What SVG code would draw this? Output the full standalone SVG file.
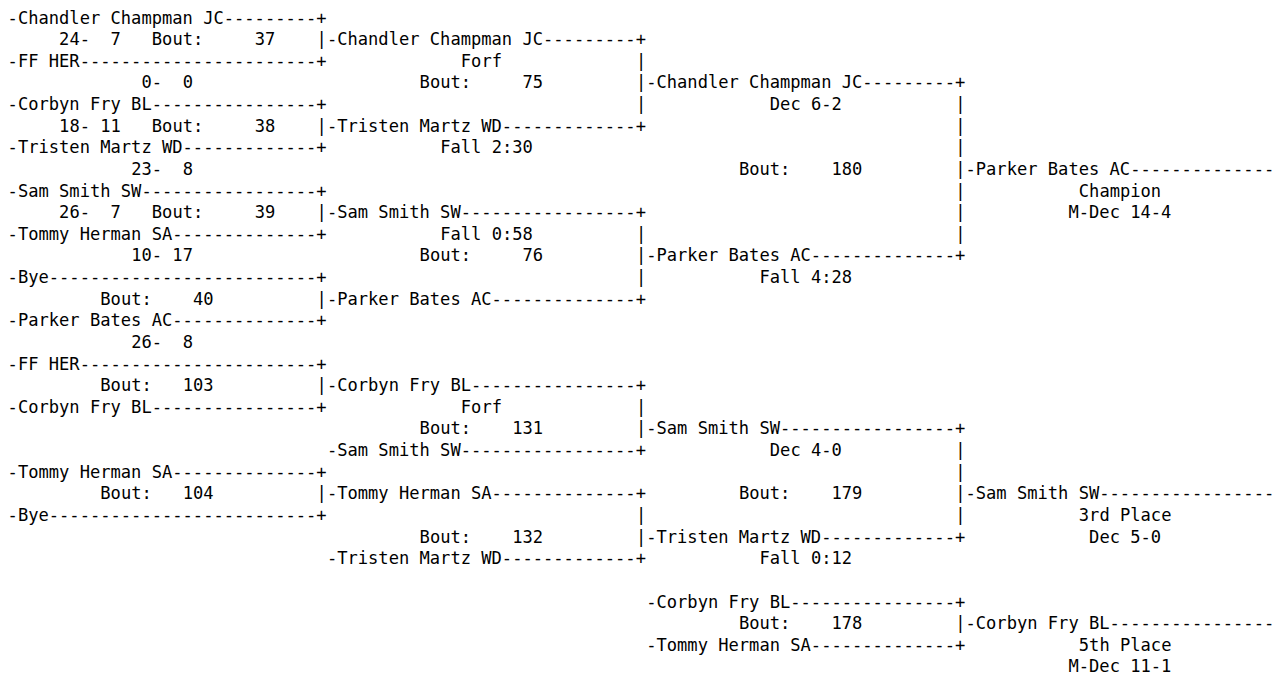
<svg xmlns="http://www.w3.org/2000/svg" width="1273" height="676" viewBox="0 0 1273 676" xml:space="preserve">
<style>
text{font-family:"DejaVu Sans Mono","Liberation Mono",monospace;font-size:17.1px;fill:#000;white-space:pre}
</style>
<rect width="1273" height="676" fill="#fff"/>
<g id="bout37">
<text x="7.6" y="23.5">-Chandler Champman JC---------+</text>
<text x="59.1" y="45.13">24-  7</text>
<text x="151.8" y="45.13">Bout:     37</text>
<text x="7.6" y="66.76">-FF HER-----------------------+</text>
<text x="141.5" y="88.39">0-  0</text>
</g>
<g id="bout38">
<text x="7.6" y="110.02">-Corbyn Fry BL----------------+</text>
<text x="59.1" y="131.65">18- 11</text>
<text x="151.8" y="131.65">Bout:     38</text>
<text x="7.6" y="153.28">-Tristen Martz WD-------------+</text>
<text x="131.2" y="174.91">23-  8</text>
</g>
<g id="bout39">
<text x="7.6" y="196.54">-Sam Smith SW-----------------+</text>
<text x="59.1" y="218.17">26-  7</text>
<text x="151.8" y="218.17">Bout:     39</text>
<text x="7.6" y="239.8">-Tommy Herman SA--------------+</text>
<text x="131.2" y="261.43">10- 17</text>
</g>
<g id="bout40">
<text x="7.6" y="283.06">-Bye--------------------------+</text>
<text x="100.3" y="304.69">Bout:    40</text>
<text x="7.6" y="326.32">-Parker Bates AC--------------+</text>
<text x="131.2" y="347.95">26-  8</text>
</g>
<g id="bout75">
<text x="326.9" y="45.13">-Chandler Champman JC---------+</text>
<text x="460.8" y="66.76">Forf</text>
<text x="419.6" y="88.39">Bout:     75</text>
<text x="326.9" y="131.65">-Tristen Martz WD-------------+</text>
<text x="440.2" y="153.28">Fall 2:30</text>
</g>
<g id="bout76">
<text x="326.9" y="218.17">-Sam Smith SW-----------------+</text>
<text x="440.2" y="239.8">Fall 0:58</text>
<text x="419.6" y="261.43">Bout:     76</text>
<text x="326.9" y="304.69">-Parker Bates AC--------------+</text>
</g>
<g id="bout180">
<text x="646.2" y="88.39">-Chandler Champman JC---------+</text>
<text x="769.8" y="110.02">Dec 6-2</text>
<text x="738.9" y="174.91">Bout:    180</text>
<text x="646.2" y="261.43">-Parker Bates AC--------------+</text>
<text x="759.5" y="283.06">Fall 4:28</text>
</g>
<g id="champion">
<text x="965.5" y="174.91">-Parker Bates AC--------------</text>
<text x="1078.8" y="196.54">Champion</text>
<text x="1068.5" y="218.17">M-Dec 14-4</text>
</g>
<g id="bout103">
<text x="7.6" y="369.58">-FF HER-----------------------+</text>
<text x="100.3" y="391.21">Bout:   103</text>
<text x="7.6" y="412.84">-Corbyn Fry BL----------------+</text>
</g>
<g id="bout104">
<text x="7.6" y="477.73">-Tommy Herman SA--------------+</text>
<text x="100.3" y="499.36">Bout:   104</text>
<text x="7.6" y="520.99">-Bye--------------------------+</text>
</g>
<g id="bout131">
<text x="326.9" y="391.21">-Corbyn Fry BL----------------+</text>
<text x="460.8" y="412.84">Forf</text>
<text x="419.6" y="434.47">Bout:    131</text>
<text x="326.9" y="456.1">-Sam Smith SW-----------------+</text>
</g>
<g id="bout132">
<text x="326.9" y="499.36">-Tommy Herman SA--------------+</text>
<text x="419.6" y="542.62">Bout:    132</text>
<text x="326.9" y="564.25">-Tristen Martz WD-------------+</text>
</g>
<g id="bout179">
<text x="646.2" y="434.47">-Sam Smith SW-----------------+</text>
<text x="769.8" y="456.1">Dec 4-0</text>
<text x="738.9" y="499.36">Bout:    179</text>
<text x="646.2" y="542.62">-Tristen Martz WD-------------+</text>
<text x="759.5" y="564.25">Fall 0:12</text>
</g>
<g id="third">
<text x="965.5" y="499.36">-Sam Smith SW-----------------</text>
<text x="1078.8" y="520.99">3rd Place</text>
<text x="1089.1" y="542.62">Dec 5-0</text>
</g>
<g id="bout178">
<text x="646.2" y="607.51">-Corbyn Fry BL----------------+</text>
<text x="738.9" y="629.14">Bout:    178</text>
<text x="646.2" y="650.77">-Tommy Herman SA--------------+</text>
</g>
<g id="fifth">
<text x="965.5" y="629.14">-Corbyn Fry BL----------------</text>
<text x="1078.8" y="650.77">5th Place</text>
<text x="1068.5" y="672.4">M-Dec 11-1</text>
</g>
<g id="connectors">
<text x="316.6" y="45.13">|</text>
<text x="316.6" y="131.65">|</text>
<text x="316.6" y="218.17">|</text>
<text x="316.6" y="304.69">|</text>
<text x="316.6" y="391.21">|</text>
<text x="316.6" y="499.36">|</text>
<text x="635.9" y="66.76">|</text>
<text x="635.9" y="88.39">|</text>
<text x="635.9" y="110.02">|</text>
<text x="635.9" y="239.8">|</text>
<text x="635.9" y="261.43">|</text>
<text x="635.9" y="283.06">|</text>
<text x="635.9" y="412.84">|</text>
<text x="635.9" y="434.47">|</text>
<text x="635.9" y="520.99">|</text>
<text x="635.9" y="542.62">|</text>
<text x="955.2" y="110.02">|</text>
<text x="955.2" y="131.65">|</text>
<text x="955.2" y="153.28">|</text>
<text x="955.2" y="174.91">|</text>
<text x="955.2" y="196.54">|</text>
<text x="955.2" y="218.17">|</text>
<text x="955.2" y="239.8">|</text>
<text x="955.2" y="456.1">|</text>
<text x="955.2" y="477.73">|</text>
<text x="955.2" y="499.36">|</text>
<text x="955.2" y="520.99">|</text>
<text x="955.2" y="629.14">|</text>
</g>
</svg>
